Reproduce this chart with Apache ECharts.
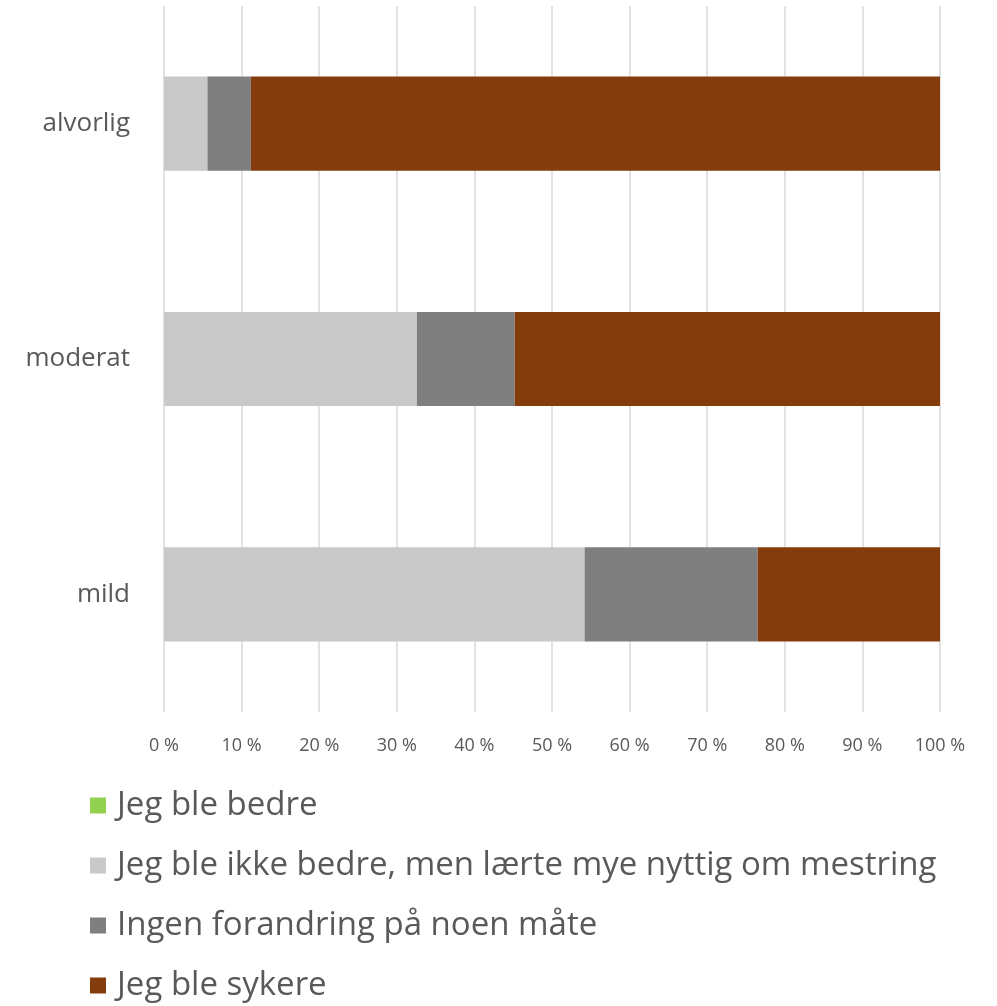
<!DOCTYPE html>
<html>
<head>
<meta charset="utf-8">
<script src="https://cdn.jsdelivr.net/npm/echarts@6/dist/echarts.min.js"></script>
<style>html,body{margin:0;padding:0;background:#fff}#c{width:997px;height:1006px}</style>
</head>
<body>
<div id="c"></div>
<script>
const categories = ['mild', 'moderat', 'alvorlig'];
const seriesNames = ['Jeg ble bedre', 'Jeg ble ikke bedre, men lærte mye nyttig om mestring', 'Ingen forandring på noen måte', 'Jeg ble sykere'];
const bedre = [0, 0, 0];
const ikkeBedre = [54.2, 32.6, 5.6];
const ingenForandring = [22.3, 12.6, 5.6];
const sykere = [23.5, 54.8, 88.8];
const xTicks = [0, 10, 20, 30, 40, 50, 60, 70, 80, 90, 100];
const colors = ['#92d050', '#c9c9c9', '#7f7f7f', '#843c0c'];

const allData = [bedre, ikkeBedre, ingenForandring, sykere];
const chart = echarts.init(document.getElementById('c'));
chart.setOption({
  animation: false,
  textStyle: { fontFamily: 'Open Sans' },
  grid: { left: 164, right: 57, top: 6, bottom: 294 },
  xAxis: {
    type: 'value', min: xTicks[0], max: xTicks[xTicks.length - 1], interval: 10,
    axisLine: { show: false }, axisTick: { show: false },
    splitLine: { lineStyle: { color: '#d9d9d9', width: 1.5 } },
    axisLabel: { formatter: '{value} %', color: '#595959', fontSize: 18, margin: 25, fontFamily: 'Open Sans' }
  },
  yAxis: {
    type: 'category', data: categories,
    axisLine: { show: false }, axisTick: { show: false },
    axisLabel: { color: '#595959', fontSize: 26, margin: 34, fontFamily: 'Open Sans' }
  },
  legend: {
    orient: 'vertical', left: 90, top: 789, height: 300, padding: 0,
    itemWidth: 16, itemHeight: 16, itemGap: 27,
    icon: 'rect',
    textStyle: { color: '#595959', fontSize: 33, fontFamily: 'Open Sans', padding: [0, 0, 0, 6] },
    data: seriesNames
  },
  series: seriesNames.map((n, i) => ({
    name: n, type: 'bar', stack: 'all', data: allData[i],
    barCategoryGap: '60%',
    itemStyle: { color: colors[i] }
  }))
});
</script>
</body>
</html>
